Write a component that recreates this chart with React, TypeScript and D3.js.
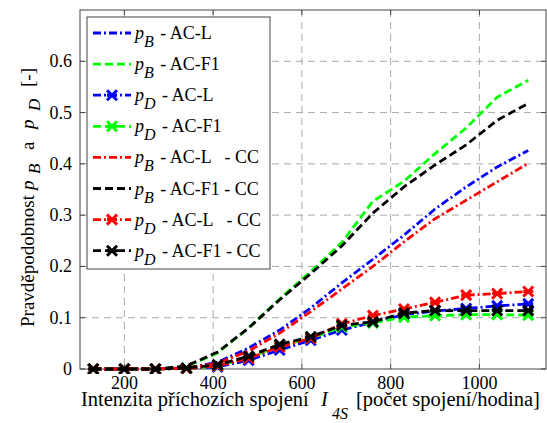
import React from "react";
import * as d3 from "d3";

const xs = [130, 200, 270, 340, 410, 480, 550, 620, 690, 760, 830, 900, 970, 1040, 1110];
const pB_ACL = [0, 0, 0, 0.002, 0.013, 0.041, 0.076, 0.119, 0.168, 0.214, 0.261, 0.312, 0.355, 0.394, 0.426];
const pB_ACF1 = [0, 0, 0, 0.005, 0.031, 0.08, 0.137, 0.19, 0.247, 0.327, 0.366, 0.42, 0.47, 0.53, 0.563];
const pD_ACL = [0, 0, 0, 0.001, 0.004, 0.017, 0.037, 0.056, 0.076, 0.091, 0.106, 0.113, 0.118, 0.123, 0.127];
const pD_ACF1 = [0, 0, 0, 0.001, 0.006, 0.022, 0.045, 0.06, 0.082, 0.09, 0.101, 0.104, 0.106, 0.106, 0.105];
const pB_ACL_CC = [0, 0, 0, 0.002, 0.011, 0.035, 0.07, 0.112, 0.156, 0.2, 0.248, 0.293, 0.329, 0.365, 0.401];
const pB_ACF1_CC = [0, 0, 0, 0.006, 0.033, 0.08, 0.135, 0.186, 0.24, 0.304, 0.355, 0.398, 0.437, 0.485, 0.518];
const pD_ACL_CC = [0, 0, 0, 0.001, 0.006, 0.021, 0.043, 0.06, 0.088, 0.104, 0.117, 0.13, 0.144, 0.147, 0.151];
const pD_ACF1_CC = [0, 0, 0, 0.002, 0.008, 0.025, 0.048, 0.063, 0.085, 0.092, 0.109, 0.114, 0.114, 0.114, 0.114];

const xTicks = [200, 400, 600, 800, 1000];
const yTicks = [0, 0.1, 0.2, 0.3, 0.4, 0.5, 0.6];
const yTickLabels = ["0", "0.1", "0.2", "0.3", "0.4", "0.5", "0.6"];

const DASH = "8,4";
const DASHDOT = "8,3,2,3";

const series = [
  { sub: "B", label: " - AC-L", values: pB_ACL, color: "#0000ff", dash: DASHDOT, marker: false },
  { sub: "B", label: " - AC-F1", values: pB_ACF1, color: "#00ff00", dash: DASH, marker: false },
  { sub: "D", label: " - AC-L", values: pD_ACL, color: "#0000ff", dash: DASHDOT, marker: true },
  { sub: "D", label: " - AC-F1", values: pD_ACF1, color: "#00ff00", dash: DASH, marker: true },
  { sub: "B", label: " - AC-L   - CC", values: pB_ACL_CC, color: "#ff0000", dash: DASHDOT, marker: false },
  { sub: "B", label: " - AC-F1 - CC", values: pB_ACF1_CC, color: "#000000", dash: DASH, marker: false },
  { sub: "D", label: " - AC-L   - CC", values: pD_ACL_CC, color: "#ff0000", dash: DASHDOT, marker: true },
  { sub: "D", label: " - AC-F1 - CC", values: pD_ACF1_CC, color: "#000000", dash: DASH, marker: true },
];

const W = 547;
const H = 423;
const L = 80, R = 546, T = 10, B = 369;
const FONT = "Liberation Serif, Times New Roman, Times, serif";
const txt: React.CSSProperties = { fontFamily: FONT, whiteSpace: "pre" };

function XMark({ cx, cy, color }: { cx: number; cy: number; color: string }) {
  const s = 5;
  return (
    <path
      d={`M${cx - s},${cy - s}L${cx + s},${cy + s}M${cx - s},${cy + s}L${cx + s},${cy - s}M${cx - s},${cy}L${cx + s},${cy}`}
      stroke={color}
      strokeWidth={3}
      strokeLinecap="butt"
      fill="none"
    />
  );
}

export default function App() {
  const x = d3.scaleLinear().domain([100, 1150]).range([L, R]);
  const y = d3.scaleLinear().domain([0, 0.7]).range([B, T]);
  const line = d3
    .line<number>()
    .x((_, i) => x(xs[i]))
    .y((v) => y(v));

  const legX = 87, legY = 17, legW = 183, legH = 252;
  const rowY = (i: number) => 33 + i * 31.1;

  return (
    <svg
      width={W}
      height={H}
      style={{ position: "absolute", left: 0, top: 0, background: "#fff", fontFamily: FONT }}
    >
      <rect x={0} y={0} width={W} height={H} fill="#fff" />
      {xTicks.map((t) => (
        <line key={"gx" + t} x1={x(t)} x2={x(t)} y1={T} y2={B} stroke="#aaaaaa" strokeWidth={1} strokeDasharray="7,5" />
      ))}
      {yTicks.filter((t) => t > 0).map((t) => (
        <line key={"gy" + t} x1={L} x2={R} y1={y(t)} y2={y(t)} stroke="#aaaaaa" strokeWidth={1} strokeDasharray="7,5" />
      ))}
      <rect x={L} y={T} width={R - L} height={B - T} fill="none" stroke="#444" strokeWidth={1} />
      {xTicks.map((t) => (
        <g key={"tx" + t}>
          <line x1={x(t)} x2={x(t)} y1={B} y2={B - 5} stroke="#444" />
          <line x1={x(t)} x2={x(t)} y1={T} y2={T + 5} stroke="#444" />
          <text x={x(t)} y={389} fontSize={18} textAnchor="middle" fill="#000" style={txt}>
            {t}
          </text>
        </g>
      ))}
      {yTicks.map((t, i) => (
        <g key={"ty" + t}>
          <line x1={L} x2={L + 5} y1={y(t)} y2={y(t)} stroke="#444" />
          <line x1={R} x2={R - 5} y1={y(t)} y2={y(t)} stroke="#444" />
          <text x={72} y={y(t) + 6} fontSize={18} textAnchor="end" fill="#000" style={txt}>
            {yTickLabels[i]}
          </text>
        </g>
      ))}
      <g clipPath="url(#clip)">
        {series.map((s, si) => (
          <g key={"s" + si}>
            <path d={line(s.values) || ""} fill="none" stroke={s.color} strokeWidth={2.8} strokeDasharray={s.dash} />
            {s.marker && s.values.map((v, i) => <XMark key={i} cx={x(xs[i])} cy={y(v)} color={s.color} />)}
          </g>
        ))}
      </g>
      <rect x={legX} y={legY} width={legW} height={legH} fill="#fff" stroke="#444" strokeWidth={1} />
      {series.map((s, i) => (
        <g key={"l" + i}>
          <line x1={93} x2={131} y1={rowY(i)} y2={rowY(i)} stroke={s.color} strokeWidth={2.8} strokeDasharray={s.dash} />
          {s.marker && <XMark cx={112} cy={rowY(i)} color={s.color} />}
          <text x={135} y={rowY(i) + 6} fontSize={18} fill="#000" style={txt}>
            <tspan fontStyle="italic">p</tspan>
            <tspan fontStyle="italic" fontSize={16} dy={8}>{s.sub}</tspan>
            <tspan dy={-8} dx={2}>{s.label}</tspan>
          </text>
        </g>
      ))}
      <text y={406} fontSize={20.5} fill="#000" style={txt}>
        <tspan x={81}>{"Intenzita příchozích spojení"}</tspan>
        <tspan x={321} fontStyle="italic">I</tspan>
        <tspan x={332} fontStyle="italic" fontSize={16} dy={13}>4S</tspan>
        <tspan x={356} dy={-13}>{"[počet spojení/hodina]"}</tspan>
      </text>
      <text transform="translate(34,327) rotate(-90)" fontSize={19} fill="#000" style={txt}>
        <tspan x={0}>{"Pravděpodobnost"}</tspan>
        <tspan x={137} fontStyle="italic">p</tspan>
        <tspan x={153} fontStyle="italic" fontSize={17} dy={6}>B</tspan>
        <tspan x={177} dy={-6}>a</tspan>
        <tspan x={198} fontStyle="italic">p</tspan>
        <tspan x={216} fontStyle="italic" fontSize={17} dy={6}>D</tspan>
        <tspan x={240} dy={-6}>[-]</tspan>
      </text>
      <defs>
        <clipPath id="clip">
          <rect x={L} y={T - 5} width={R - L} height={B - T + 10} />
        </clipPath>
      </defs>
    </svg>
  );
}
